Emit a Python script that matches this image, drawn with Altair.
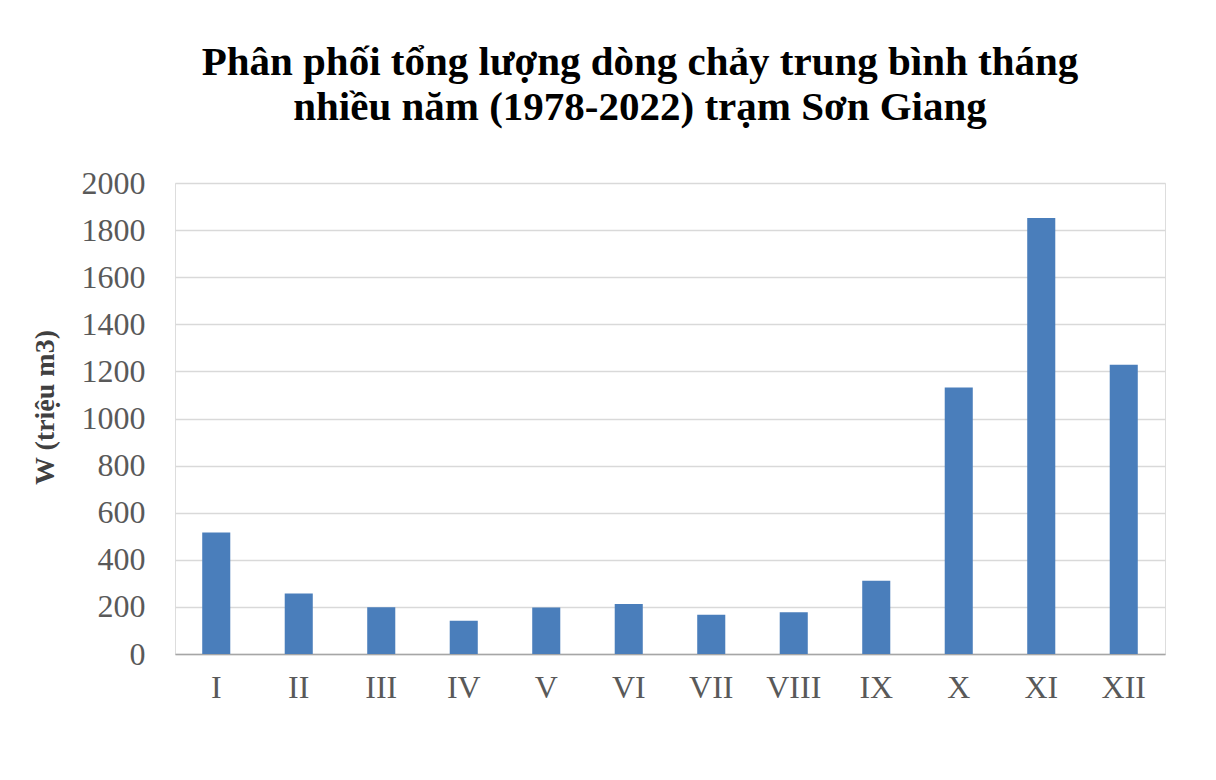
import altair as alt
import pandas as pd

months = ["I", "II", "III", "IV", "V", "VI", "VII", "VIII", "IX", "X", "XI", "XII"]
flow = [516, 257, 198, 141, 197, 212, 167, 177, 311, 1132, 1851, 1228]
y_ticks = [0, 200, 400, 600, 800, 1000, 1200, 1400, 1600, 1800, 2000]

df = pd.DataFrame({"month": months, "W": flow})

FONT = "Liberation Serif"

chart = (
    alt.Chart(df)
    .mark_bar(color="#4a7ebb")
    .encode(
        x=alt.X(
            "month:N",
            sort=months,
            title=None,
            scale=alt.Scale(paddingInner=0.66, paddingOuter=0.33),
            axis=alt.Axis(
                labelAngle=0,
                labelFont=FONT,
                labelFontSize=32,
                labelColor="#595959",
                labelPadding=18,
                ticks=False,
                domainColor="#a6a6a6",
                domainWidth=1.5,
            ),
        ),
        y=alt.Y(
            "W:Q",
            title="W (triệu m3)",
            scale=alt.Scale(domain=[0, 2000], nice=False),
            axis=alt.Axis(
                values=y_ticks,
                format="d",
                labelFont=FONT,
                labelFontSize=32,
                labelColor="#595959",
                labelPadding=30,
                ticks=False,
                domain=False,
                gridColor="#d9d9d9",
                gridWidth=1.5,
                titleFont=FONT,
                titleFontSize=28,
                titleFontWeight="bold",
                titleColor="#404040",
                titlePadding=22,
                titleY=224,
            ),
        ),
    )
    .properties(
        width=990,
        height=471,
        autosize=alt.AutoSizeParams(type="none"),
        padding={"left": 167, "top": 175, "right": 43, "bottom": 118},
        title=alt.TitleParams(
            text=["Phân phối tổng lượng dòng chảy trung bình tháng",
                  "nhiều năm (1978-2022) trạm Sơn Giang"],
            font=FONT,
            fontSize=41,
            fontWeight="bold",
            color="#000000",
            lineHeight=45,
            anchor="middle",
            dx=-30,
            offset=38,
        ),
    )
    .configure_view(stroke="#a6a6a6", strokeWidth=1.5)
    .configure(background="white")
)

chart.save("out.html", embed_options={"renderer": "svg", "actions": False})
